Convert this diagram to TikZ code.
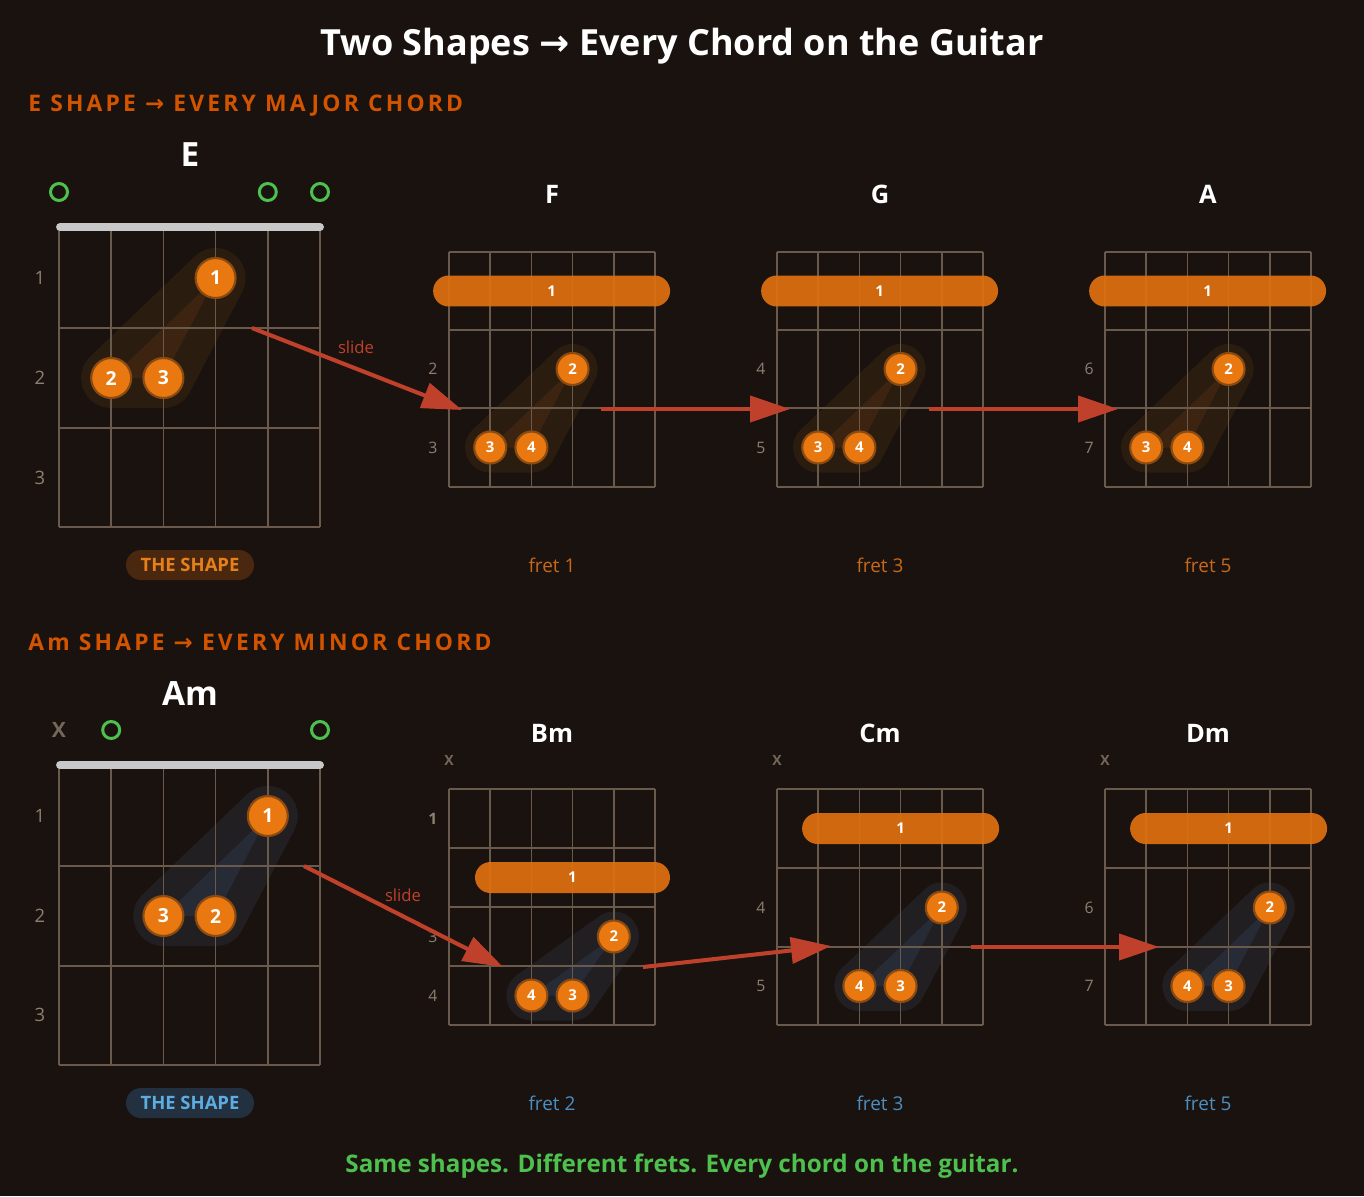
\documentclass[tikz,border=0pt]{standalone}
\usepackage{fontspec}
\setmainfont{Open Sans}
\newfontfamily\arrowfont{DejaVu Sans}
\newfontfamily\trackfont[LetterSpace=14]{Open Sans}
\usetikzlibrary{arrows.meta}

\definecolor{bg}{HTML}{1A120E}
\definecolor{gridc}{HTML}{6A5A4B}
\definecolor{nutc}{HTML}{C8C8C8}
\definecolor{numc}{HTML}{8C8070}
\definecolor{mutec}{HTML}{75675A}
\definecolor{dotc}{HTML}{E8780F}
\definecolor{dotring}{HTML}{8A4A12}
\definecolor{barc}{HTML}{E07010}
\definecolor{arrowc}{HTML}{C0412B}
\definecolor{greenc}{HTML}{4DC04D}
\definecolor{headc}{HTML}{D35400}
\definecolor{fretorange}{HTML}{C8681A}
\definecolor{fretblue}{HTML}{4A8FC4}
\definecolor{badgeofill}{HTML}{4A2810}
\definecolor{badgeotext}{HTML}{E8801A}
\definecolor{badgebfill}{HTML}{22303F}
\definecolor{badgebtext}{HTML}{5DADE2}
\definecolor{glowE}{HTML}{2B1C10}
\definecolor{glowEin}{HTML}{3C2410}
\definecolor{glowA}{HTML}{221F22}
\definecolor{glowAin}{HTML}{262B36}

\tikzset{
  fretline/.style={draw=gridc, line width=0.9pt},
  nutbar/.style={draw=nutc, line width=4.5pt, line cap=round},
  fingerdot/.style={circle, fill=dotc, draw=dotring, line width=1.2pt, text=white, inner sep=0pt},
  dotbig/.style={fingerdot, minimum size=0.8cm, font=\fontsize{11}{11}\selectfont\bfseries},
  dotsmall/.style={fingerdot, minimum size=0.64cm, font=\fontsize{8.5}{8.5}\selectfont\bfseries},
  barre/.style={fill=barc, fill opacity=0.92, text opacity=1, text=white, rounded corners=0.31cm,
    minimum height=0.62cm, inner sep=0pt, font=\fontsize{8.5}{8.5}\selectfont\bfseries},
  openstring/.style={circle, draw=greenc, line width=1.7pt, minimum size=0.34cm, inner sep=0pt},
  mutestring/.style={text=mutec, inner sep=0pt, font=\fontsize{12}{12}\selectfont\bfseries},
  mutesmall/.style={mutestring, font=\fontsize{8}{8}\selectfont\bfseries},
  fretnum/.style={text=numc, inner sep=0pt, font=\fontsize{9}{9}\selectfont},
  bignum/.style={text=numc, inner sep=0pt, font=\fontsize{10.5}{10.5}\selectfont},
  chordname/.style={anchor=base, text=white, inner sep=0pt, font=\fontsize{14.5}{14.5}\selectfont\bfseries},
  bigname/.style={anchor=base, text=white, inner sep=0pt, font=\fontsize{19}{19}\selectfont\bfseries},
  caption/.style={anchor=base, inner sep=0pt, font=\fontsize{10.8}{10.8}\selectfont},
  badge/.style={rounded corners=0.3cm, minimum width=2.56cm, minimum height=0.6cm, inner sep=0pt,
    font=\fontsize{10.5}{10.5}\selectfont\bfseries},
  sectionhead/.style={anchor=base west, inner sep=0pt, text=headc, font=\fontsize{13}{13}\trackfont\bfseries},
  slidearrow/.style={draw=arrowc, line width=2.3pt, -{Triangle[length=0.8cm,width=0.52cm]}},
  slidetext/.style={text=arrowc, inner sep=0pt, font=\fontsize{9.5}{9.5}\selectfont},
}

\begin{document}
\begin{tikzpicture}[x=0.02cm,y=-0.02cm]
\fill[bg] (0,0) rectangle (1364,1196);

% headings
\node[anchor=base, text=white, inner sep=0pt, font=\fontsize{20.5}{20.5}\selectfont\bfseries] (title) at (682,56)
  {Two Shapes {\arrowfont →} Every Chord on the Guitar};
\node[sectionhead] (majhead) at (28,112) {E SHAPE {\arrowfont →} EVERY MAJOR CHORD};
\node[sectionhead] (minhead) at (28,650) {Am SHAPE {\arrowfont →} EVERY MINOR CHORD};

% ---- E shape ----
\coordinate (e1) at (215.6,278);
\coordinate (e2) at (111.2,378);
\coordinate (e3) at (163.4,378);
\filldraw[draw=glowE, fill=glowE, line width=1.2cm, line join=round] (e1)--(e2)--(e3)--cycle;
\fill[glowEin] (e1)--(e2)--(e3)--cycle;
\foreach \s in {0,...,5} \draw[fretline] (59+\s*52.2,228) -- (59+\s*52.2,527);
\foreach \f in {328,428,527} \draw[fretline] (59,\f) -- (320,\f);
\draw[nutbar] (60,227) -- (320,227);
\foreach \r/\y in {1/278,2/378,3/478} \node[bignum] (enum\r) at (40,\y) {\r};
\node[openstring] (eopen1) at (59,192) {};
\node[openstring] (eopen5) at (267.8,192) {};
\node[openstring] (eopen6) at (320,192) {};
\node[dotbig] (E-1) at (e1) {1};
\node[dotbig] (E-2) at (e2) {2};
\node[dotbig] (E-3) at (e3) {3};
\node[bigname] (nameE) at (190,167) {E};
\node[badge, fill=badgeofill, text=badgeotext] (badgeE) at (190,565) {THE SHAPE};

% ---- F, G, A ----
\foreach \ox/\nm/\ra/\rb/\fr in {449/F/2/3/1,777/G/4/5/3,1105/A/6/7/5}{
  \coordinate (t2) at (\ox+123.6,369);
  \coordinate (t3) at (\ox+41.2,447.5);
  \coordinate (t4) at (\ox+82.4,447.5);
  \filldraw[draw=glowE, fill=glowE, line width=1cm, line join=round] (t2)--(t3)--(t4)--cycle;
  \fill[glowEin] (t2)--(t3)--(t4)--cycle;
  \foreach \s in {0,...,5} \draw[fretline] (\ox+\s*41.2,252) -- (\ox+\s*41.2,487);
  \foreach \f in {252,330,408,487} \draw[fretline] (\ox,\f) -- (\ox+206,\f);
  \node[barre, minimum width=4.74cm] (bar\nm) at (\ox+102.6,291) {1};
  \node[dotsmall] (\nm-2) at (t2) {2};
  \node[dotsmall] (\nm-3) at (t3) {3};
  \node[dotsmall] (\nm-4) at (t4) {4};
  \node[fretnum] (num\nm a) at (\ox-16,369) {\ra};
  \node[fretnum] (num\nm b) at (\ox-16,447.5) {\rb};
  \node[chordname] (name\nm) at (\ox+103,203) {\nm};
  \node[caption, text=fretorange] (cap\nm) at (\ox+103,572) {fret \fr};
}

% ---- Am shape ----
\coordinate (a1) at (267.8,816);
\coordinate (a3) at (163.4,916);
\coordinate (a2) at (215.6,916);
\filldraw[draw=glowA, fill=glowA, line width=1.2cm, line join=round] (a1)--(a3)--(a2)--cycle;
\fill[glowAin] (a1)--(a3)--(a2)--cycle;
\foreach \s in {0,...,5} \draw[fretline] (59+\s*52.2,766) -- (59+\s*52.2,1065);
\foreach \f in {866,966,1065} \draw[fretline] (59,\f) -- (320,\f);
\draw[nutbar] (60,765) -- (320,765);
\foreach \r/\y in {1/816,2/916,3/1015} \node[bignum] (anum\r) at (40,\y) {\r};
\node[mutestring] (amute) at (59,730) {X};
\node[openstring] (aopen2) at (111.2,730) {};
\node[openstring] (aopen6) at (320,730) {};
\node[dotbig] (Am-1) at (a1) {1};
\node[dotbig] (Am-3) at (a3) {3};
\node[dotbig] (Am-2) at (a2) {2};
\node[bigname] (nameAm) at (190,705) {Am};
\node[badge, fill=badgebfill, text=badgebtext] (badgeAm) at (190,1103) {THE SHAPE};

% ---- Bm ----
\coordinate (b2) at (613.8,936.5);
\coordinate (b4) at (531.4,995.5);
\coordinate (b3) at (572.6,995.5);
\filldraw[draw=glowA, fill=glowA, line width=1cm, line join=round] (b2)--(b4)--(b3)--cycle;
\fill[glowAin] (b2)--(b4)--(b3)--cycle;
\foreach \s in {0,...,5} \draw[fretline] (449+\s*41.2,789) -- (449+\s*41.2,1025);
\foreach \f in {789,848,907,966,1025} \draw[fretline] (449,\f) -- (655,\f);
\node[barre, minimum width=3.9cm] (barBm) at (572.5,877.5) {1};
\node[dotsmall] (Bm-2) at (b2) {2};
\node[dotsmall] (Bm-4) at (b4) {4};
\node[dotsmall] (Bm-3) at (b3) {3};
\node[fretnum, font=\fontsize{9}{9}\selectfont\bfseries] (numBm1) at (433,818.5) {1};
\node[fretnum] (numBm3) at (433,936.5) {3};
\node[fretnum] (numBm4) at (433,995.5) {4};
\node[mutesmall] (muteBm) at (449,760) {X};
\node[chordname] (nameBm) at (552,742) {Bm};
\node[caption, text=fretblue] (capBm) at (552,1110) {fret 2};

% ---- Cm, Dm ----
\foreach \ox/\nm/\ra/\rb/\fr in {777/Cm/4/5/3,1105/Dm/6/7/5}{
  \coordinate (m2) at (\ox+164.8,907.5);
  \coordinate (m4) at (\ox+82.4,986);
  \coordinate (m3) at (\ox+123.6,986);
  \filldraw[draw=glowA, fill=glowA, line width=1cm, line join=round] (m2)--(m4)--(m3)--cycle;
  \fill[glowAin] (m2)--(m4)--(m3)--cycle;
  \foreach \s in {0,...,5} \draw[fretline] (\ox+\s*41.2,789) -- (\ox+\s*41.2,1025);
  \foreach \f in {789,868,947,1025} \draw[fretline] (\ox,\f) -- (\ox+206,\f);
  \node[barre, minimum width=3.94cm] (bar\nm) at (\ox+123.6,828.5) {1};
  \node[dotsmall] (\nm-2) at (m2) {2};
  \node[dotsmall] (\nm-4) at (m4) {4};
  \node[dotsmall] (\nm-3) at (m3) {3};
  \node[fretnum] (num\nm a) at (\ox-16,907.5) {\ra};
  \node[fretnum] (num\nm b) at (\ox-16,986) {\rb};
  \node[mutesmall] (mute\nm) at (\ox,760) {X};
  \node[chordname] (name\nm) at (\ox+103,742) {\nm};
  \node[caption, text=fretblue] (cap\nm) at (\ox+103,1110) {fret \fr};
}

% ---- slide arrows ----
\coordinate (sE) at (252,328);   \coordinate (sF) at (462,410);
\coordinate (fG1) at (601,409);  \coordinate (fG2) at (790,409);
\coordinate (gA1) at (929,409);  \coordinate (gA2) at (1118,409);
\coordinate (sAm) at (304,866);  \coordinate (sBm) at (503,967);
\coordinate (bC1) at (643,967);  \coordinate (bC2) at (831,946);
\coordinate (cD1) at (971,947);  \coordinate (cD2) at (1159,947);
\draw[slidearrow] (sE) -- (sF);
\draw[slidearrow] (fG1) -- (fG2);
\draw[slidearrow] (gA1) -- (gA2);
\draw[slidearrow] (sAm) -- (sBm);
\draw[slidearrow] (bC1) -- (bC2);
\draw[slidearrow] (cD1) -- (cD2);
\node[slidetext] (slide1) at (356,347) {slide};
\node[slidetext] (slide2) at (403,895) {slide};

\node[anchor=base, text=greenc, inner sep=0pt, font=\fontsize{13.8}{13.8}\selectfont\bfseries] (footer) at (682,1172)
  {Same shapes. Different frets. Every chord on the guitar.};
\end{tikzpicture}
\end{document}
